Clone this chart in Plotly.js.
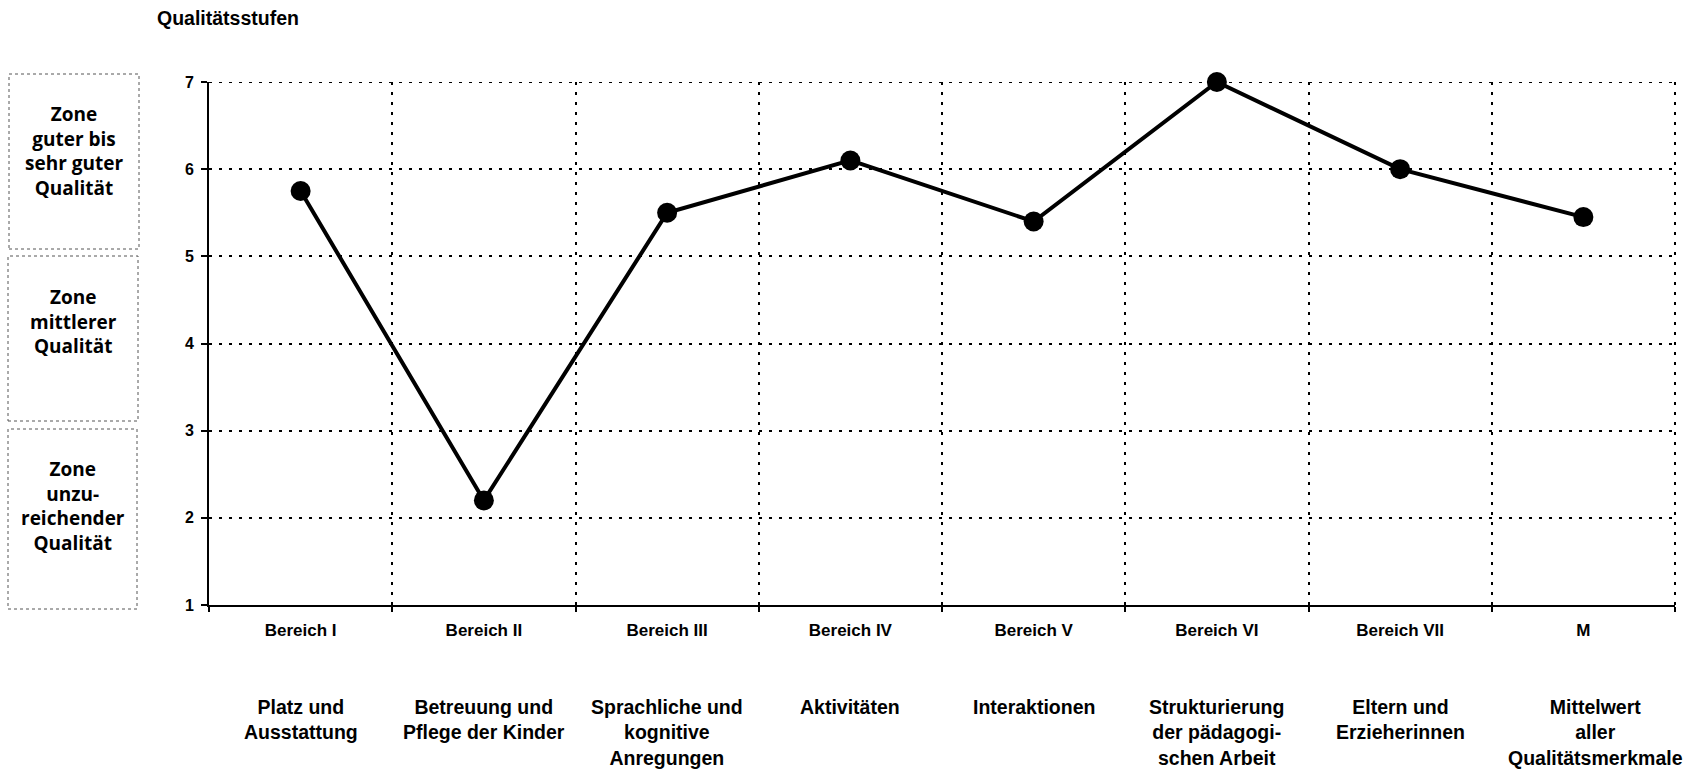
<!DOCTYPE html>
<html>
<head>
<meta charset="utf-8">
<script src="https://cdn.plot.ly/plotly-3.0.1.min.js"></script>
<style>html,body{margin:0;padding:0;background:#fff;}</style>
</head>
<body>
<div id="chart" style="width:1693px;height:774px;"></div>
<script>
// ---- data ----
const categories = ["Bereich I", "Bereich II", "Bereich III", "Bereich IV", "Bereich V", "Bereich VI", "Bereich VII", "M"];
const descriptions = [
  "Platz und<br>Ausstattung",
  "Betreuung und<br>Pflege der Kinder",
  "Sprachliche und<br>kognitive<br>Anregungen",
  "Aktivitäten",
  "Interaktionen",
  "Strukturierung<br>der pädagogi-<br>schen Arbeit",
  "Eltern und<br>Erzieherinnen",
  "Mittelwert<br>aller<br>Qualitätsmerkmale"
];
const values = [5.75, 2.2, 5.5, 6.1, 5.4, 7.0, 6.0, 5.45];
const yTicks = [1, 2, 3, 4, 5, 6, 7];
const zoneTexts = [
  "Zone<br>guter bis<br>sehr guter<br>Qualität",
  "Zone<br>mittlerer<br>Qualität",
  "Zone<br>unzu-<br>reichender<br>Qualität"
];
const titleText = "Qualitätsstufen";

// ---- layout helpers ----
const W = 1693, H = 774;
const mL = 209, mR = 18, mT = 82, mB = 169;
const pw = W - mL - mR, ph = H - mT - mB;
const px = x => (x - mL) / pw;
const py = y => (H - mB - y) / ph;

const sans = "Liberation Sans, Arial, sans-serif";
const zoneFont = "Open Sans, sans-serif";
const gridDash = "3px,7px";

const zoneBoxes = [
  {x0: 9, x1: 139, y0: 74, y1: 249, cy: 151},
  {x0: 8, x1: 138, y0: 256, y1: 421, cy: 321},
  {x0: 8, x1: 137, y0: 429, y1: 609, cy: 506}
];

const shapes = zoneBoxes.map(b => ({
  type: "rect", xref: "paper", yref: "paper",
  x0: px(b.x0), x1: px(b.x1), y0: py(b.y1), y1: py(b.y0),
  line: {color: "#555", width: 1, dash: "dot"}, fillcolor: "rgba(0,0,0,0)"
}));
// top gridline (y = 7) and right boundary gridline, which the axes do not draw at the range edges
shapes.push({type: "line", xref: "paper", yref: "y", x0: 0, x1: 1, y0: yTicks[yTicks.length - 1], y1: yTicks[yTicks.length - 1],
  line: {color: "#000", width: 2, dash: gridDash}, layer: "below"});
shapes.push({type: "line", xref: "paper", yref: "paper", x0: 1, x1: 1, y0: 0, y1: 1,
  line: {color: "#000", width: 2, dash: gridDash}, layer: "below"});

const annotations = [];
annotations.push({
  xref: "paper", yref: "paper", x: px(155), y: py(18),
  xanchor: "left", yanchor: "middle", showarrow: false,
  text: titleText,
  font: {family: sans, size: 19.5, weight: "bold", color: "#000"}
});
zoneBoxes.forEach((b, i) => {
  annotations.push({
    xref: "paper", yref: "paper", x: px((b.x0 + b.x1) / 2), y: py(b.cy),
    xanchor: "center", yanchor: "middle", showarrow: false, align: "center",
    text: zoneTexts[i],
    font: {family: zoneFont, size: 19, weight: "bold", color: "#000"}
  });
});
categories.forEach((c, i) => {
  annotations.push({
    xref: "x", yref: "paper", x: c, y: py(694),
    xanchor: "center", yanchor: "top", showarrow: false, align: "center",
    xshift: i === 7 ? 12 : 0,
    text: descriptions[i],
    font: {family: sans, size: 19.5, weight: "bold", color: "#000"}
  });
});

const trace = {
  type: "scatter", mode: "lines+markers",
  x: categories, y: values,
  line: {color: "#000", width: 4},
  marker: {color: "#000", size: 20},
  cliponaxis: false, hoverinfo: "skip"
};

const layout = {
  width: W, height: H,
  margin: {l: mL, r: mR, t: mT, b: mB, pad: 0},
  paper_bgcolor: "#fff", plot_bgcolor: "#fff",
  showlegend: false,
  xaxis: {
    type: "category", range: [-0.5, 7.5], tickson: "boundaries",
    showgrid: true, gridcolor: "#000", gridwidth: 2, griddash: gridDash,
    showline: true, linecolor: "#000", linewidth: 2,
    ticks: "outside", ticklen: 5, tickwidth: 2, tickcolor: "#000",
    ticklabelstandoff: 9,
    tickfont: {family: sans, size: 17, weight: "bold", color: "#000"},
    zeroline: false, fixedrange: true
  },
  yaxis: {
    range: [1, 7], tickvals: yTicks, ticktext: yTicks.map(String),
    showgrid: true, gridcolor: "#000", gridwidth: 2, griddash: gridDash,
    showline: true, linecolor: "#000", linewidth: 2,
    ticks: "outside", ticklen: 6, tickwidth: 2, tickcolor: "#000",
    ticklabelstandoff: 4,
    tickfont: {family: sans, size: 16, weight: "bold", color: "#000"},
    zeroline: false, fixedrange: true
  },
  shapes: shapes,
  annotations: annotations
};

Plotly.newPlot("chart", [trace], layout, {displayModeBar: false, staticPlot: true});
</script>
</body>
</html>
